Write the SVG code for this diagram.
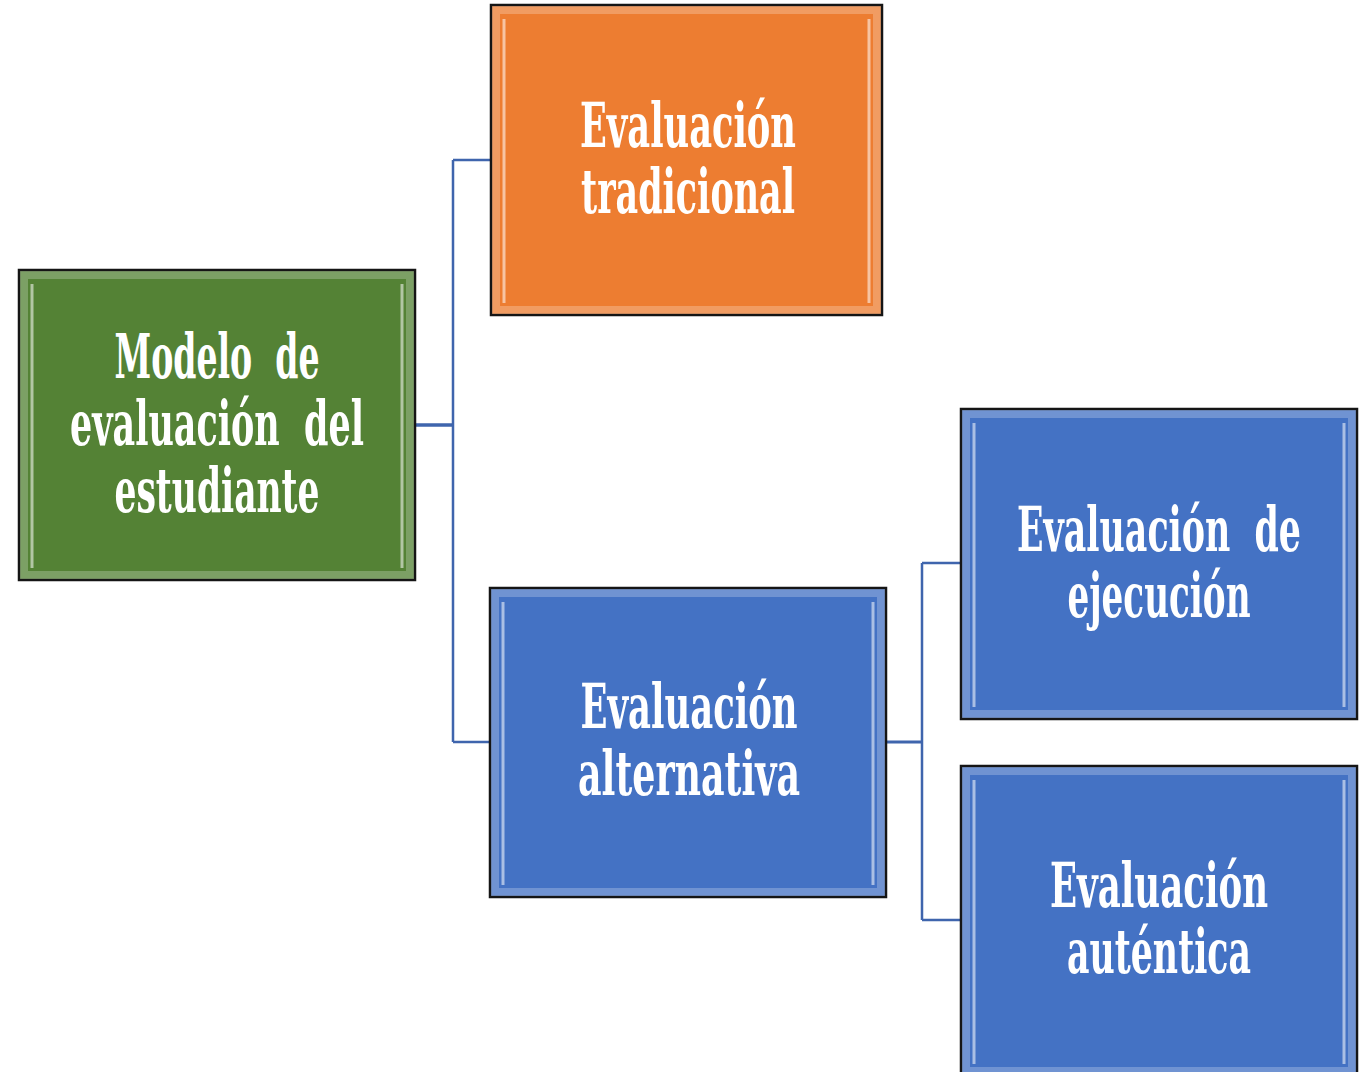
<svg xmlns="http://www.w3.org/2000/svg" width="1372" height="1072" viewBox="0 0 1372 1072">
<style>
.box{stroke:#151515;stroke-width:2.5}
.green{fill:#548235}
.orange{fill:#ED7D31}
.blue{fill:#4472C4}
.frame{fill:none;stroke:#ffffff;stroke-opacity:0.24;stroke-width:8}
.hl{stroke:#ffffff;stroke-opacity:0.55;stroke-width:3}
.lbl{font-family:"DejaVu Serif","Liberation Serif",serif;font-stretch:condensed;font-weight:bold;font-size:62px;fill:#ffffff;text-anchor:middle}
.conn{fill:none;stroke:#3F65AD;stroke-width:2.5}
</style>
<g id="connectors">
<path class="conn" d="M415,425 H453" style="stroke-width:3.5"/>
<path class="conn" d="M453,160 V742 M453,160 H491 M453,742 H490" />
<path class="conn" d="M886,742 H922" style="stroke-width:3"/>
<path class="conn" d="M922,563 V920 M922,563 H961 M922,920 H961" />
</g>
<g id="node-modelo">
<rect class="box green" x="19" y="270" width="396" height="310"/>
<rect class="frame" x="24" y="275" width="386" height="300"/>
<line class="hl" x1="32" y1="284" x2="32" y2="568"/>
<line class="hl" x1="402" y1="284" x2="402" y2="568"/>
<text class="lbl"><tspan x="217" y="378" textLength="205" lengthAdjust="spacingAndGlyphs">Modelo&#160; de</tspan><tspan x="217" y="445" textLength="294" lengthAdjust="spacingAndGlyphs">evaluación&#160; del</tspan><tspan x="217" y="512" textLength="205" lengthAdjust="spacingAndGlyphs">estudiante</tspan></text>
</g>
<g id="node-tradicional">
<rect class="box orange" x="491" y="5" width="391" height="310"/>
<rect class="frame" x="496" y="10" width="381" height="300"/>
<line class="hl" x1="504" y1="19" x2="504" y2="303"/>
<line class="hl" x1="869" y1="19" x2="869" y2="303"/>
<text class="lbl"><tspan x="688" y="147" textLength="216" lengthAdjust="spacingAndGlyphs">Evaluación</tspan><tspan x="688" y="213" textLength="214" lengthAdjust="spacingAndGlyphs">tradicional</tspan></text>
</g>
<g id="node-alternativa">
<rect class="box blue" x="490" y="588" width="396" height="309"/>
<rect class="frame" x="495" y="593" width="386" height="299"/>
<line class="hl" x1="503" y1="602" x2="503" y2="885"/>
<line class="hl" x1="873" y1="602" x2="873" y2="885"/>
<text class="lbl"><tspan x="689" y="728" textLength="217" lengthAdjust="spacingAndGlyphs">Evaluación</tspan><tspan x="689" y="795" textLength="222" lengthAdjust="spacingAndGlyphs">alternativa</tspan></text>
</g>
<g id="node-ejecucion">
<rect class="box blue" x="961" y="409" width="396" height="310"/>
<rect class="frame" x="966" y="414" width="386" height="300"/>
<line class="hl" x1="974" y1="423" x2="974" y2="707"/>
<line class="hl" x1="1344" y1="423" x2="1344" y2="707"/>
<text class="lbl"><tspan x="1159" y="551" textLength="284" lengthAdjust="spacingAndGlyphs">Evaluación&#160; de</tspan><tspan x="1159" y="617" textLength="183" lengthAdjust="spacingAndGlyphs">ejecución</tspan></text>
</g>
<g id="node-autentica">
<rect class="box blue" x="961" y="766" width="396" height="310"/>
<rect class="frame" x="966" y="771" width="386" height="300"/>
<line class="hl" x1="974" y1="780" x2="974" y2="1064"/>
<line class="hl" x1="1344" y1="780" x2="1344" y2="1064"/>
<text class="lbl"><tspan x="1159" y="907" textLength="218" lengthAdjust="spacingAndGlyphs">Evaluación</tspan><tspan x="1159" y="973" textLength="184" lengthAdjust="spacingAndGlyphs">auténtica</tspan></text>
</g>
</svg>
